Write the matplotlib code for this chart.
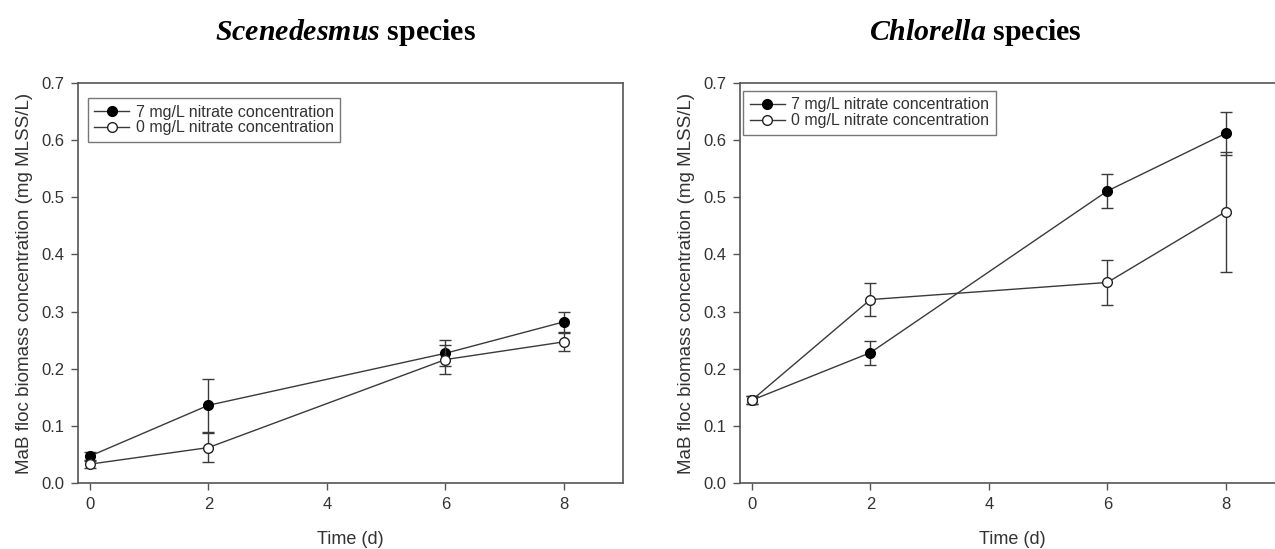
import matplotlib
matplotlib.use("Agg")
import matplotlib.pyplot as plt
from matplotlib.lines import Line2D

plt.rcParams['font.family'] = ['Liberation Sans', 'DejaVu Sans']
plt.rcParams['mathtext.fontset'] = 'custom'
plt.rcParams['mathtext.it'] = 'Liberation Serif:italic:bold'
plt.rcParams['mathtext.rm'] = 'Liberation Serif:bold'

time_days = [0, 2, 6, 8]
xticks = [0, 2, 4, 6, 8]
yticks = [0.0, 0.1, 0.2, 0.3, 0.4, 0.5, 0.6, 0.7]

# Scenedesmus
scen_7 = [0.047, 0.136, 0.227, 0.282]
scen_7_err = [0.007, 0.046, 0.023, 0.018]
scen_0 = [0.033, 0.062, 0.216, 0.247]
scen_0_err = [0.006, 0.025, 0.025, 0.016]

# Chlorella
chl_7 = [0.145, 0.228, 0.511, 0.612]
chl_7_err = [0.007, 0.021, 0.030, 0.038]
chl_0 = [0.145, 0.321, 0.351, 0.475]
chl_0_err = [0.007, 0.029, 0.039, 0.105]

label_7 = "7 mg/L nitrate concentration"
label_0 = "0 mg/L nitrate concentration"
titles = [r"$\mathit{Scenedesmus}$ species", r"$\mathit{Chlorella}$ species"]
ylabel = "MaB floc biomass concentration (mg MLSS/L)"
xlabel = "Time (d)"

fig = plt.figure(figsize=(12.75, 5.49), dpi=100)
axL = fig.add_axes([0.0612, 0.1202, 0.4275, 0.7286])
axR = fig.add_axes([0.5804, 0.1202, 0.4275, 0.7286])

line_c = '#3a3a3a'
spine_c = '#555555'
text_c = '#333333'

def draw(ax, y7, e7, y0, e0, leg_pos):
    ax.errorbar(time_days, y7, yerr=e7, color=line_c, lw=1.0, marker='o', ms=7,
                mfc='black', mec='black', capsize=4, elinewidth=1.0, capthick=1.0,
                ecolor=line_c, zorder=3)
    ax.errorbar(time_days, y0, yerr=e0, color=line_c, lw=1.0, marker='o', ms=7,
                mfc='white', mec='#222222', capsize=4, elinewidth=1.0, capthick=1.0,
                ecolor=line_c, zorder=4)
    ax.set_xlim(-0.2, 9.0)
    ax.set_ylim(0.0, 0.7)
    ax.set_xticks(xticks)
    ax.set_yticks(yticks)
    ax.set_yticklabels([f"{v:.1f}" for v in yticks])
    ax.tick_params(direction='out', length=5, width=1.0, color=spine_c,
                   labelsize=12, labelcolor=text_c, pad=5)
    for s in ax.spines.values():
        s.set_color(spine_c)
        s.set_linewidth(1.2)
    ax.set_xlabel(xlabel, fontsize=13, color=text_c, labelpad=14)
    ax.set_ylabel(ylabel, fontsize=13.5, color=text_c, labelpad=6)
    handles = [
        Line2D([], [], color=line_c, lw=1.0, marker='o', ms=7, mfc='black', mec='black'),
        Line2D([], [], color=line_c, lw=1.0, marker='o', ms=7, mfc='white', mec='#222222'),
    ]
    leg = ax.legend(handles, [label_7, label_0], loc='upper left', bbox_to_anchor=leg_pos,
                    fontsize=11.5, frameon=True, fancybox=False, edgecolor=spine_c,
                    handlelength=2.2, handletextpad=0.4, borderpad=0.4,
                    labelspacing=0.05, borderaxespad=0.0)
    leg.get_frame().set_linewidth(1.0)
    for t in leg.get_texts():
        t.set_color(text_c)

draw(axL, scen_7, scen_7_err, scen_0, scen_0_err, (0.018, 0.962))
draw(axR, chl_7, chl_7_err, chl_0, chl_0_err, (0.006, 0.98))

fig.text(0.271, 0.94, titles[0], fontsize=21.5, fontweight='bold',
         family='Liberation Serif', ha='center', va='center')
fig.text(0.765, 0.94, titles[1], fontsize=21.5, fontweight='bold',
         family='Liberation Serif', ha='center', va='center')

fig.savefig("out.png", dpi=100)
